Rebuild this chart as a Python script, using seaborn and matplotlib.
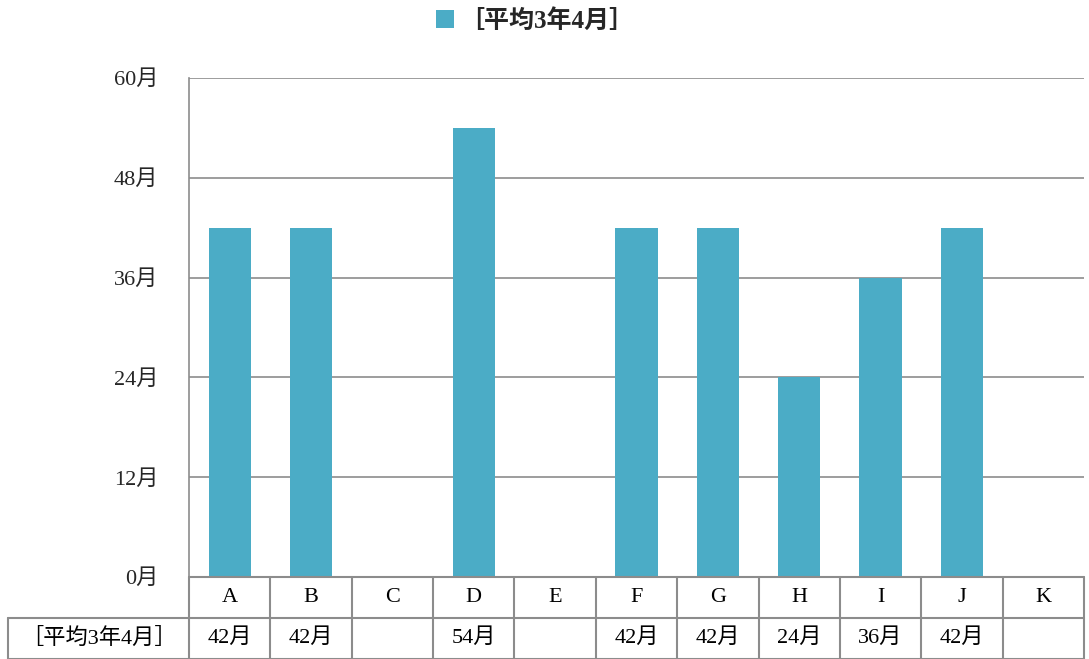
import matplotlib
matplotlib.use("Agg")
import matplotlib.pyplot as plt
import matplotlib.transforms as mtransforms
from matplotlib.lines import Line2D
from matplotlib.patches import Rectangle
import seaborn as sns
import pandas as pd

categories = ["A", "B", "C", "D", "E", "F", "G", "H", "I", "J", "K"]
values = [42, 42, None, 54, None, 42, 42, 24, 36, 42, None]
series_name = "［平均3年4月］"
y_ticks = [0, 12, 24, 36, 48, 60]
unit = "月"

bar_color = "#4BACC6"
line_color = "#8C8C8C"

sns.set_theme(style="white")
plt.rcParams["font.family"] = ["Liberation Serif", "Noto Sans CJK JP", "DejaVu Sans"]

df = pd.DataFrame({"cat": categories, "val": [v if v is not None else 0 for v in values]})

fig = plt.figure(figsize=(10.89, 6.59), dpi=100)
ax = fig.add_axes([189 / 1089, 1 - 577 / 659, 895 / 1089, 499 / 659])

sns.barplot(data=df, x="cat", y="val", color=bar_color, width=0.52,
            saturation=1, linewidth=0, ax=ax, zorder=3)

ax.set_ylim(0, 60)
ax.set_xlim(-0.5, len(categories) - 0.5)
ax.set_yticks(y_ticks)
ax.set_yticklabels([f"{t}{unit}" for t in y_ticks], fontsize=16)
ax.tick_params(axis="y", length=0, pad=22)
ax.set_xticks([])
ax.set_xlabel("")
ax.set_ylabel("")
ax.yaxis.grid(True, color=line_color, linewidth=1.2, zorder=0)
for side in ["top", "right", "bottom"]:
    ax.spines[side].set_visible(False)
ax.spines["left"].set_color(line_color)
ax.spines["left"].set_linewidth(1.2)

# Data table under the plot
trans = mtransforms.blended_transform_factory(ax.transData, ax.transAxes)
row_h = 41 / 499
y0, y1, y2 = 0, -row_h, -2 * row_h
x_left_axes = (8 - 189) / 895
lw = 1.5
n = len(categories)

ax.add_line(Line2D([0, 1], [y0, y0], transform=ax.transAxes, color=line_color,
                   linewidth=lw, clip_on=False, zorder=4))
ax.add_line(Line2D([x_left_axes, 1], [y1, y1], transform=ax.transAxes,
                   color=line_color, linewidth=lw, clip_on=False))
ax.add_line(Line2D([x_left_axes, 1], [y2, y2], transform=ax.transAxes,
                   color=line_color, linewidth=lw, clip_on=False))
for i in range(n + 1):
    ax.add_line(Line2D([i - 0.5, i - 0.5], [y0, y2], transform=trans,
                       color=line_color, linewidth=lw, clip_on=False))
ax.add_line(Line2D([x_left_axes, x_left_axes], [y1, y2], transform=ax.transAxes,
                   color=line_color, linewidth=lw, clip_on=False))

for i, (c, v) in enumerate(zip(categories, values)):
    ax.text(i, (y0 + y1) / 2, c, transform=trans, ha="center", va="center",
            fontsize=16, color="black")
    if v is not None:
        ax.text(i, (y1 + y2) / 2, f"{v}{unit}", transform=trans, ha="center",
                va="center", fontsize=16, color="black")
ax.text((x_left_axes + 0) / 2, (y1 + y2) / 2, series_name, transform=ax.transAxes,
        ha="center", va="center", fontsize=16, color="black")

# Legend
handle = Rectangle((0, 0), 1, 1, facecolor=bar_color, edgecolor="none")
fig.legend([handle], [series_name], loc="center", bbox_to_anchor=(535 / 1089, 1 - 21 / 659),
           frameon=False, handlelength=0.75, handleheight=0.75, handletextpad=0.2,
           prop={"weight": "bold", "size": 18})

fig.savefig("out.png", dpi=100)
